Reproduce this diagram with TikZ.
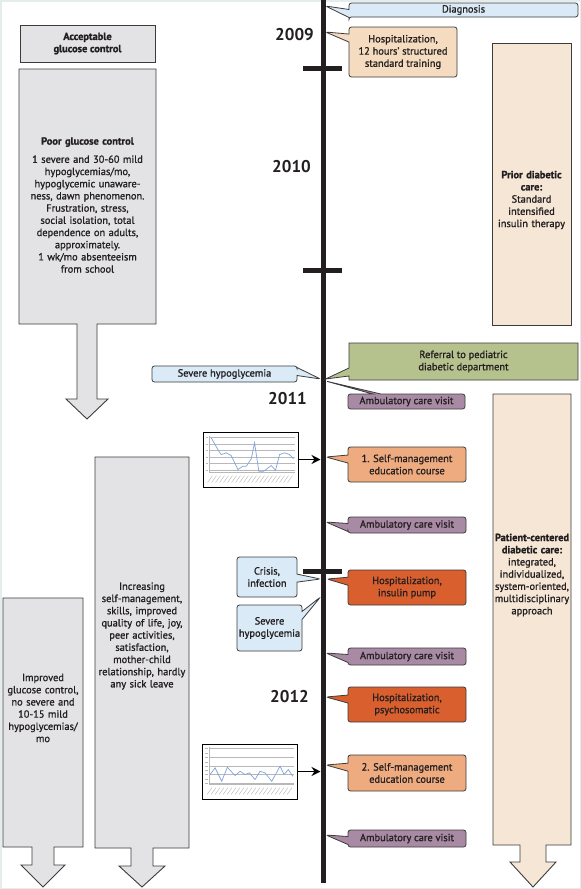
\documentclass[tikz,border=0pt]{standalone}
\usepackage{fontspec}
\setmainfont{PT Sans}[FakeBold=1.2]
\newfontfamily\yearfam{PT Sans}
\usetikzlibrary{shapes.callouts,arrows.meta}
\definecolor{txt}{HTML}{231F20}
\definecolor{edge}{HTML}{3C3C3C}
\definecolor{grayfill}{HTML}{E3E3E5}
\definecolor{cblue}{HTML}{DBEAF7}
\definecolor{cpeach}{HTML}{F5DBBF}
\definecolor{rpeach}{HTML}{F5E6D6}
\definecolor{cgreen}{HTML}{B5C28E}
\definecolor{cmauve}{HTML}{A98AA5}
\definecolor{csalmon}{HTML}{EEAB80}
\definecolor{corange}{HTML}{D95F2E}
\definecolor{framec}{HTML}{E4ECEC}
\definecolor{chartblue}{HTML}{7FA3DA}
\definecolor{chartgrid}{HTML}{B8B8B8}
\newcommand\bodyf{\fontsize{10.4pt}{12.2pt}\selectfont}
\newcommand\yearf{\yearfam\fontsize{17pt}{17pt}\selectfont\bfseries}
\begin{document}
\begin{tikzpicture}[x=1pt,y=-1pt,
  base/.style={font=\bodyf, text=txt, align=center, inner sep=0pt},
  co/.style={base, rectangle callout, draw=edge, line width=0.8pt, rounded corners=2.5pt, callout pointer width=8pt},
  bigbox/.style={draw=edge, line width=0.9pt, fill=grayfill},
  tick/.style={line width=5pt, txt},
  year/.style={font=\yearf, text=txt, anchor=east, inner sep=0pt},
  chartbox/.style={draw=black, line width=0.9pt, fill=white, minimum width=95pt, minimum height=55pt, inner sep=0pt},
  gridl/.style={chartgrid, line width=0.4pt},
  cline/.style={chartblue, line width=0.7pt},
  lab/.style={chartgrid, line width=0.4pt},
  conn/.style={line width=1.3pt, -{Stealth[length=9pt,width=9pt]}}
]
\useasboundingbox (0,0) rectangle (581,889);
\fill[white] (0,0) rectangle (581,889);
\draw[framec, line width=1.5pt] (0.75,0.75) rectangle (580.25,888.25);

% ---- big shapes ----
\node[bigbox, minimum width=135pt, minimum height=37pt, base, font=\bodyf\bfseries] (acc) at (87.5,43.5) {Acceptable\\glucose control};

\draw[bigbox] (19,69) -- (156,69) -- (156,324) -- (97,324) -- (97,399) -- (108,399) -- (87,419) -- (66,399) -- (77,399) -- (77,324) -- (19,324) -- cycle;
\node[base, text width=134pt] (poor) at (87.5,205) {{\bfseries Poor glucose control}\\[6pt]1 severe and 30-60 mild\\hypoglycemias/mo,\\hypoglycemic unaware-\\ness, dawn phenomenon.\\Frustration, stress,\\social isolation, total\\dependence on adults,\\approximately.\\1 wk/mo absenteeism\\from school};

\draw[bigbox] (95,457) -- (189,457) -- (189,848) -- (153,848) -- (153,866) -- (165,866) -- (142,887) -- (119,866) -- (131,866) -- (131,848) -- (95,848) -- cycle;
\node[base, text width=92pt] (incr) at (142,636) {Increasing\\self-management,\\skills, improved\\quality of life, joy,\\peer activities,\\satisfaction,\\mother-child\\relationship, hardly\\any sick leave};

\draw[bigbox] (3,598) -- (83,598) -- (83,847) -- (54,847) -- (54,865) -- (65,865) -- (43,887) -- (21,865) -- (32,865) -- (32,847) -- (3,847) -- cycle;
\node[base, text width=78pt] (impr) at (43,708) {Improved\\glucose control,\\no severe and\\10-15 mild\\hypoglycemias/\\mo};

\node[bigbox, fill=rpeach, minimum width=79pt, minimum height=282pt, inner sep=0pt] (prior) at (531.5,184) {};
\node[base, text width=78pt] (priort) at (531.5,200) {{\bfseries Prior diabetic\\care:}\\Standard\\intensified\\insulin therapy};

\draw[bigbox, fill=rpeach] (493,394) -- (571,394) -- (571,845) -- (546,845) -- (546,862) -- (556,862) -- (533,887) -- (510,862) -- (520,862) -- (520,845) -- (493,845) -- cycle;
\node[base, text width=78pt] (pcc) at (532,575) {{\bfseries Patient-centered\\diabetic care:}\\integrated,\\individualized,\\system-oriented,\\multidisciplinary\\approach};

% ---- timeline ----
\coordinate (tltop) at (323,0);
\coordinate (tlbot) at (323,883);
\draw[line width=5pt, txt] (tltop) -- (tlbot);
\draw[tick] (303,68) -- (342,68);
\draw[tick] (303,270) -- (342,270);
\draw[tick] (303,571) -- (342,571);

\node[year] (y2009) at (314,35) {2009};
\node[year] (y2010) at (311,167) {2010};
\node[year] (y2011) at (307,399) {2011};
\node[year] (y2012) at (309,697) {2012};

% ---- pointer targets ----
\coordinate (t-diag) at (325.5,6);
\coordinate (t-h09) at (325.5,32);
\coordinate (t-ref) at (325.5,379);
\coordinate (t-sevL) at (320.5,379);
\coordinate (t-amb1) at (325.5,381);
\coordinate (t-sm1) at (326,457);
\coordinate (t-amb2) at (326,522);
\coordinate (t-cri) at (320.5,579);
\coordinate (t-hp) at (327,579);
\coordinate (t-sev2) at (320.5,597);
\coordinate (t-amb3) at (326,653);
\coordinate (t-hps) at (326,697);
\coordinate (t-sm2) at (326,765);
\coordinate (t-amb4) at (326,835);

% ---- callouts ----
\node[co, fill=cblue, minimum width=229pt, minimum height=14pt, callout absolute pointer={(t-diag)}] (diag) at (463.5,10) {Diagnosis};
\node[co, fill=cpeach, minimum width=108pt, minimum height=50pt, callout absolute pointer={(t-h09)}] (h09) at (403,52) {Hospitalization,\\12 hours’ structured\\standard training};
\node[co, fill=cgreen, rounded corners=0pt, minimum width=229pt, minimum height=37pt, callout absolute pointer={(t-ref)}] (ref) at (463.5,361.5) {Referral to pediatric\\diabetic department};
\node[co, fill=cblue, minimum width=145pt, minimum height=16pt, callout absolute pointer={(t-sevL)}] (sevL) at (224.5,374) {Severe hypoglycemia};
\node[co, fill=cmauve, minimum width=117pt, minimum height=15pt, callout absolute pointer={(t-amb1)}] (amb1) at (406.5,401.5) {Ambulatory care visit};
\node[co, fill=csalmon, minimum width=118pt, minimum height=35pt, callout absolute pointer={(t-sm1)}] (sm1) at (407,464.5) {1. Self-management\\education course};
\node[co, fill=cmauve, minimum width=118pt, minimum height=16pt, callout absolute pointer={(t-amb2)}] (amb2) at (407,525) {Ambulatory care visit};
\node[co, fill=cblue, minimum width=60pt, minimum height=40pt, callout absolute pointer={(t-cri)}] (cri) at (267,577) {Crisis,\\infection};
\node[co, fill=corange, minimum width=118pt, minimum height=35pt, callout absolute pointer={(t-hp)}] (hp) at (407,587.5) {Hospitalization,\\insulin pump};
\node[co, fill=cblue, minimum width=65pt, minimum height=46pt, callout absolute pointer={(t-sev2)}] (sev2) at (269.5,628) {Severe\\hypoglycemia};
\node[co, fill=cmauve, minimum width=118pt, minimum height=17pt, callout absolute pointer={(t-amb3)}] (amb3) at (407,656.5) {Ambulatory care visit};
\node[co, fill=corange, minimum width=118pt, minimum height=35pt, callout absolute pointer={(t-hps)}] (hps) at (407,704.5) {Hospitalization,\\psychosomatic};
\node[co, fill=csalmon, minimum width=118pt, minimum height=36pt, callout absolute pointer={(t-sm2)}] (sm2) at (407,773) {2. Self-management\\education course};
\node[co, fill=cmauve, minimum width=118pt, minimum height=17pt, callout absolute pointer={(t-amb4)}] (amb4) at (407,838.5) {Ambulatory care visit};

% ---- charts ----
\node[chartbox] (ch1) at (250.5,459.5) {};
\begin{scope}[shift={(ch1.north west)}]
  \foreach \gy in {6,12.5,19,25.5,32,38.5} \draw[gridl] (7,\gy) -- (92,\gy);
  \draw[gridl] (7,4) -- (7,41) -- (92,41);
  \foreach \gy in {6,12.5,19,25.5,32,38.5} \draw[lab] (3,\gy) -- (5.5,\gy);
  \foreach \gx in {8,12,...,90} \draw[lab] (\gx-3,51) -- (\gx+2,44);
  \draw[cline] (8.7,6.3) -- (16.3,19.7) -- (18.7,23) -- (23.7,21.3) -- (28.7,24) -- (35.3,38) -- (40.3,34.7) -- (43.7,34.7) -- (48.7,27.3) -- (52,11.3) -- (56.3,39.7) -- (61,39.7) -- (68.7,34) -- (73,38.7) -- (77,23) -- (82,21.3) -- (87,23) -- (91,27.3);
\end{scope}
\coordinate (a1) at (320.5,459.5);
\draw[conn] (ch1.east) -- (a1);

\node[chartbox] (ch2) at (250,771.5) {};
\begin{scope}[shift={(ch2.north west)}]
  \foreach \gy in {5,14,22.5,31,39.5} \draw[gridl] (7,\gy) -- (92,\gy);
  \draw[gridl] (7,3) -- (7,41) -- (92,41);
  \foreach \gy in {5,9.5,14,18.5,22.5,27,31,35.5,39.5} \draw[lab] (3,\gy) -- (5.5,\gy);
  \foreach \gx in {8,12,...,90} \draw[lab] (\gx-3,51) -- (\gx+2,44);
  \draw[cline] (8,31) -- (13,24.3) -- (19.7,37.7) -- (25.3,23.7) -- (33,32) -- (38,27.7) -- (43,31) -- (47.3,29.3) -- (53,36) -- (58,27.7) -- (63,29.3) -- (69.7,37.7) -- (78,22.7) -- (82,31) -- (86.3,26) -- (90.7,32.7);
\end{scope}
\coordinate (a2) at (320.5,771.5);
\draw[conn] (ch2.east) -- (a2);
\end{tikzpicture}
\end{document}
